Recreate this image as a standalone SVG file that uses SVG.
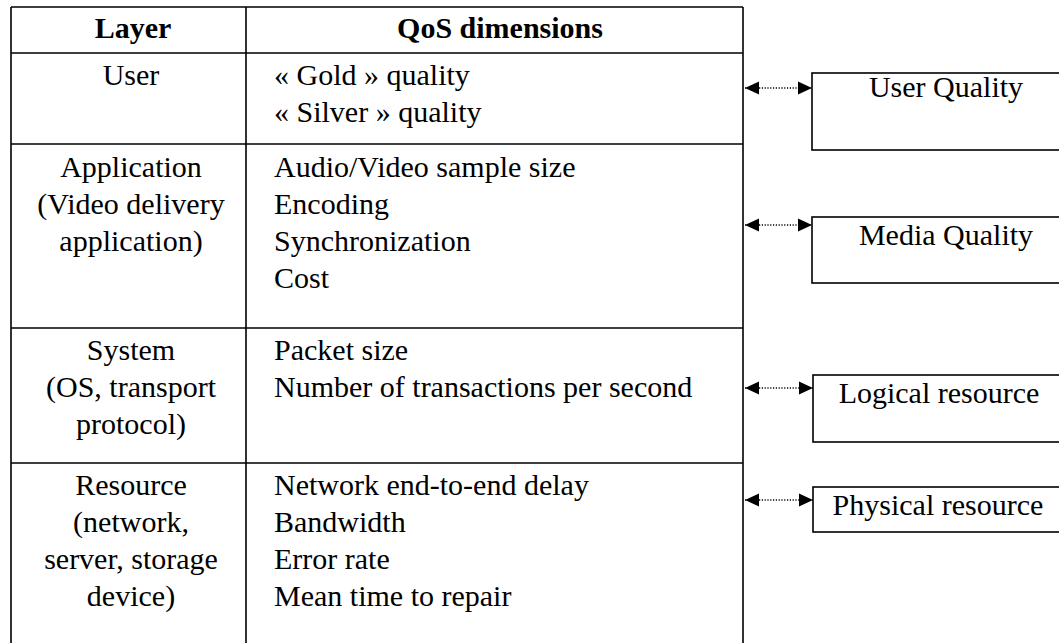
<svg xmlns="http://www.w3.org/2000/svg" width="1059" height="643" viewBox="0 0 1059 643">
  <style>
    .grid { stroke: #000; stroke-width: 1.6; fill: none; }
    .t { font-family: "Liberation Serif", "Times New Roman", serif; font-size: 30px; fill: #000; }
    .h { font-weight: bold; text-anchor: middle; }
    .c { text-anchor: middle; }
    .box { fill: #fff; stroke: #000; stroke-width: 1.6; }
    .link { stroke: #000; stroke-width: 1.4; stroke-dasharray: 1.2 1.6; fill: none; }
  </style>
  <defs>
    <marker id="head" viewBox="0 0 14 14" refX="14" refY="7" markerWidth="14" markerHeight="14" markerUnits="userSpaceOnUse" orient="auto-start-reverse">
      <path d="M0,0.5 L14,7 L0,13.5 Z" fill="#000"/>
    </marker>
  </defs>
  <rect width="1059" height="643" fill="#fff"/>

  <!-- layer table -->
  <g id="table">
    <path class="grid" d="M11,7 H743 M11,53 H743 M11,144 H743 M11,328 H743 M11,463 H743 M11,7 V643 M246,7 V643 M743,7 V643"/>
    <text class="t h" x="133" y="38">Layer</text>
    <text class="t h" x="500" y="38">QoS dimensions</text>
  </g>

  <g id="row-user">
    <text class="t c" x="131" y="85">User</text>
    <text class="t" x="274" y="85">« Gold » quality</text>
    <text class="t" x="274" y="122">« Silver » quality</text>
  </g>

  <g id="row-application">
    <text class="t c" x="131" y="177">Application</text>
    <text class="t c" x="131" y="214">(Video delivery</text>
    <text class="t c" x="131" y="251">application)</text>
    <text class="t" x="274" y="177">Audio/Video sample size</text>
    <text class="t" x="274" y="214">Encoding</text>
    <text class="t" x="274" y="251">Synchronization</text>
    <text class="t" x="274" y="288">Cost</text>
  </g>

  <g id="row-system">
    <text class="t c" x="131" y="360">System</text>
    <text class="t c" x="131" y="397">(OS, transport</text>
    <text class="t c" x="131" y="434">protocol)</text>
    <text class="t" x="274" y="360">Packet size</text>
    <text class="t" x="274" y="397">Number of transactions per second</text>
  </g>

  <g id="row-resource">
    <text class="t c" x="131" y="495">Resource</text>
    <text class="t c" x="131" y="532">(network,</text>
    <text class="t c" x="131" y="569">server, storage</text>
    <text class="t c" x="131" y="606">device)</text>
    <text class="t" x="274" y="495">Network end-to-end delay</text>
    <text class="t" x="274" y="532">Bandwidth</text>
    <text class="t" x="274" y="569">Error rate</text>
    <text class="t" x="274" y="606">Mean time to repair</text>
  </g>

  <!-- quality level boxes -->
  <g id="user-quality">
    <rect class="box" x="812" y="73" width="260" height="77"/>
    <text class="t c" x="946" y="97">User Quality</text>
  </g>
  <g id="media-quality">
    <rect class="box" x="812" y="217" width="260" height="66"/>
    <text class="t c" x="946" y="245">Media Quality</text>
  </g>
  <g id="logical-resource">
    <rect class="box" x="813" y="375" width="260" height="67"/>
    <text class="t c" x="939" y="403">Logical resource</text>
  </g>
  <g id="physical-resource">
    <rect class="box" x="813" y="487" width="260" height="45"/>
    <text class="t c" x="938" y="515">Physical resource</text>
  </g>

  <!-- mapping connectors -->
  <g id="connectors">
    <line class="link" x1="745" y1="88" x2="812" y2="88" marker-start="url(#head)" marker-end="url(#head)"/>
    <line class="link" x1="745" y1="225" x2="812" y2="225" marker-start="url(#head)" marker-end="url(#head)"/>
    <line class="link" x1="745" y1="388" x2="813" y2="388" marker-start="url(#head)" marker-end="url(#head)"/>
    <line class="link" x1="745" y1="500" x2="813" y2="500" marker-start="url(#head)" marker-end="url(#head)"/>
  </g>
</svg>
